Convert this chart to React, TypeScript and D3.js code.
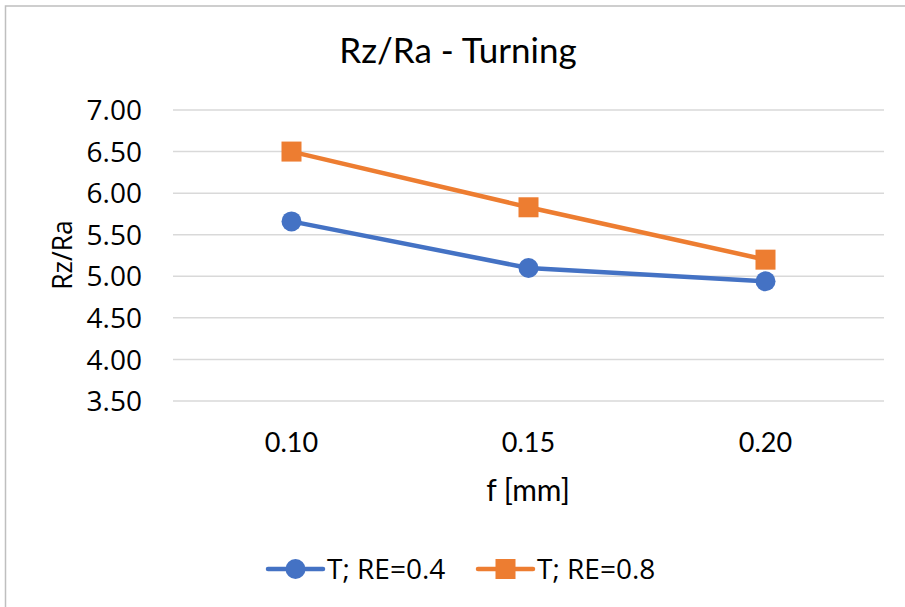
import React from "react";
import * as d3 from "d3";

const categories = ["0.10", "0.15", "0.20"];
const seriesNames = ["T; RE=0.4", "T; RE=0.8"];
const re04 = [5.66, 5.1, 4.94];
const re08 = [6.5, 5.83, 5.2];
const yTicks = [3.5, 4.0, 4.5, 5.0, 5.5, 6.0, 6.5, 7.0];

const W = 905;
const H = 607;
const BLUE = "#4472C4";
const ORANGE = "#ED7D31";
const SANS = "'Open Sans', 'Noto Sans', sans-serif";
const CAL = "Lato, 'Liberation Sans', sans-serif";

export default function App() {
  const x = d3.scaleBand<string>().domain(categories).range([173, 884]).padding(0);
  const y = d3.scaleLinear().domain([3.5, 7]).range([401, 110]);
  const cx = (c: string) => (x(c) as number) + x.bandwidth() / 2;
  const line = d3
    .line<number>()
    .x((_, i) => cx(categories[i]))
    .y((v) => y(v));

  const series = [
    { name: seriesNames[0], values: re04, color: BLUE, shape: "circle" },
    { name: seriesNames[1], values: re08, color: ORANGE, shape: "square" },
  ];

  const marker = (shape: string, color: string, px: number, py: number, key: string) =>
    shape === "circle" ? (
      <circle key={key} cx={px} cy={py} r={10} fill={color} />
    ) : (
      <rect key={key} x={px - 10} y={py - 10} width={20} height={20} fill={color} />
    );

  const legendX = [268, 478];

  return (
    <svg
      width={W}
      height={H}
      style={{ position: "absolute", left: 0, top: 0, background: "#fff" }}
    >
      <rect x={5.5} y={6} width={W} height={H} fill="#fff" stroke="#bfbfbf" strokeWidth={1.5} />
      <text x={458} y={63} textAnchor="middle" fontFamily={CAL} fontSize={35} fill="#000">
        Rz/Ra - Turning
      </text>
      {yTicks.map((t) => (
        <g key={t}>
          <line x1={173} x2={884} y1={y(t)} y2={y(t)} stroke="#d9d9d9" strokeWidth={1.5} />
          <text
            x={142}
            y={y(t)}
            dy="0.36em"
            textAnchor="end"
            fontFamily={SANS}
            fontSize={28}
            fill="#000"
          >
            {t.toFixed(2)}
          </text>
        </g>
      ))}
      {categories.map((c) => (
        <text key={c} x={cx(c)} y={452} textAnchor="middle" fontFamily={CAL} fontSize={27} fill="#000">
          {c}
        </text>
      ))}
      <text x={528} y={501} textAnchor="middle" fontFamily={CAL} fontSize={30} fill="#000">
        f [mm]
      </text>
      <text
        transform="translate(72,255) rotate(-90)"
        textAnchor="middle"
        fontFamily={SANS}
        fontSize={26.5}
        fill="#000"
      >
        Rz/Ra
      </text>
      {series.map((s) => (
        <g key={s.name}>
          <path d={line(s.values) || ""} fill="none" stroke={s.color} strokeWidth={4.5} strokeLinejoin="round" />
          {s.values.map((v, i) => marker(s.shape, s.color, cx(categories[i]), y(v), s.name + i))}
        </g>
      ))}
      {series.map((s, i) => (
        <g key={"lg" + s.name}>
          <line
            x1={legendX[i]}
            x2={legendX[i] + 55}
            y1={569}
            y2={569}
            stroke={s.color}
            strokeWidth={4.5}
            strokeLinecap="round"
          />
          {marker(s.shape, s.color, legendX[i] + 27.5, 569, "lm" + i)}
          <text x={legendX[i] + 59} y={579} fontFamily={SANS} fontSize={28} fill="#000">
            {s.name}
          </text>
        </g>
      ))}
    </svg>
  );
}
